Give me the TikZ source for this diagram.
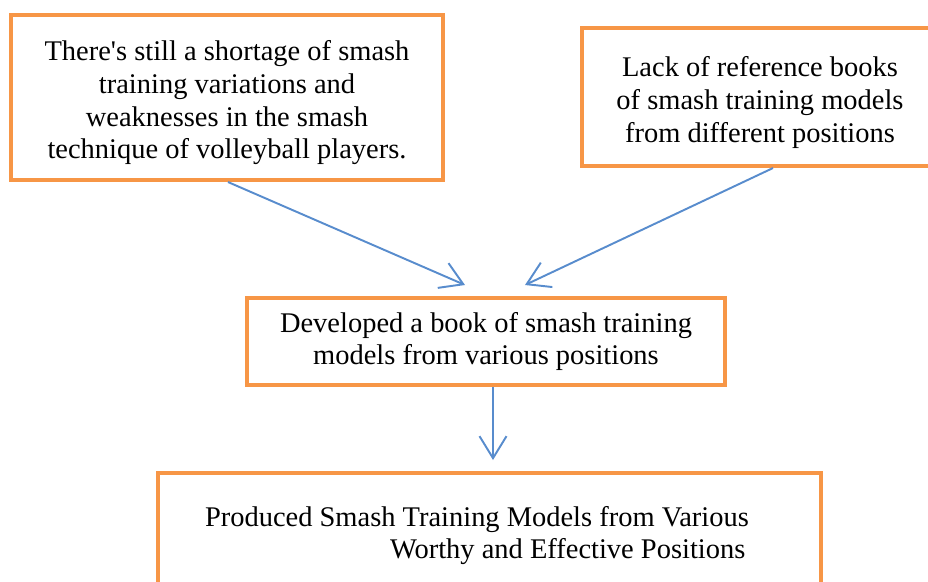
\documentclass[tikz,border=0pt]{standalone}
\usepackage{fontspec}
\setmainfont{Liberation Serif}
\usepackage{tikz}
\usetikzlibrary{arrows.meta, positioning, calc}
\definecolor{boxorange}{RGB}{247, 150, 70}
\definecolor{arrowblue}{RGB}{88, 140, 205}
\newcommand{\lowstrut}{\rule{0pt}{17.5pt}}
\tikzset{
  stepbox/.style  = {rectangle, draw=boxorange, line width=2.3pt, fill=white, align=center, font=\fontsize{16.2}{18.6}\selectfont, inner sep=2pt},
  flow/.style     = {-{Straight Barb[length=4.4mm, width=5.4mm, line width=1.1pt]}, line width=1.1pt, arrowblue},
}

\begin{document}
\begin{tikzpicture}
  \useasboundingbox (0,0) rectangle (18.56,-11.62);
  \clip (0,0) rectangle (18.56,-11.62);

  \node[stepbox, minimum width=8.64cm, minimum height=3.3cm] (shortage) at (4.54,-1.95)
    {\lowstrut There\textquotesingle s still a shortage of smash\\training variations and\\weaknesses in the smash\\technique of volleyball players.};
  \node[stepbox, minimum width=7.12cm, minimum height=2.76cm] (lack) at (15.2,-1.94)
    {\lowstrut Lack of reference books\\of smash training models\\from different positions};
  \node[stepbox, minimum width=9.56cm, minimum height=1.74cm] (book) at (9.72,-6.83)
    {Developed a book of smash training\\models from various positions};
  \node[stepbox, minimum width=13.26cm, minimum height=2.5cm, text width=13.1cm, align=flush left] (models) at (9.79,-10.71)
    {\hspace*{0.86cm}Produced Smash Training Models from Various\\\hspace*{4.56cm}Worthy and Effective Positions};

  \coordinate (tipA) at (9.30,-5.70);
  \coordinate (tipB) at (10.50,-5.70);
  \coordinate (tipC) at (9.86,-9.20);

  \draw[flow] ([xshift=0.02cm]shortage.south) -- (tipA);
  \draw[flow] ([xshift=0.26cm]lack.south) -- (tipB);
  \draw[flow] ([xshift=0.14cm]book.south) -- (tipC);
\end{tikzpicture}
\end{document}
